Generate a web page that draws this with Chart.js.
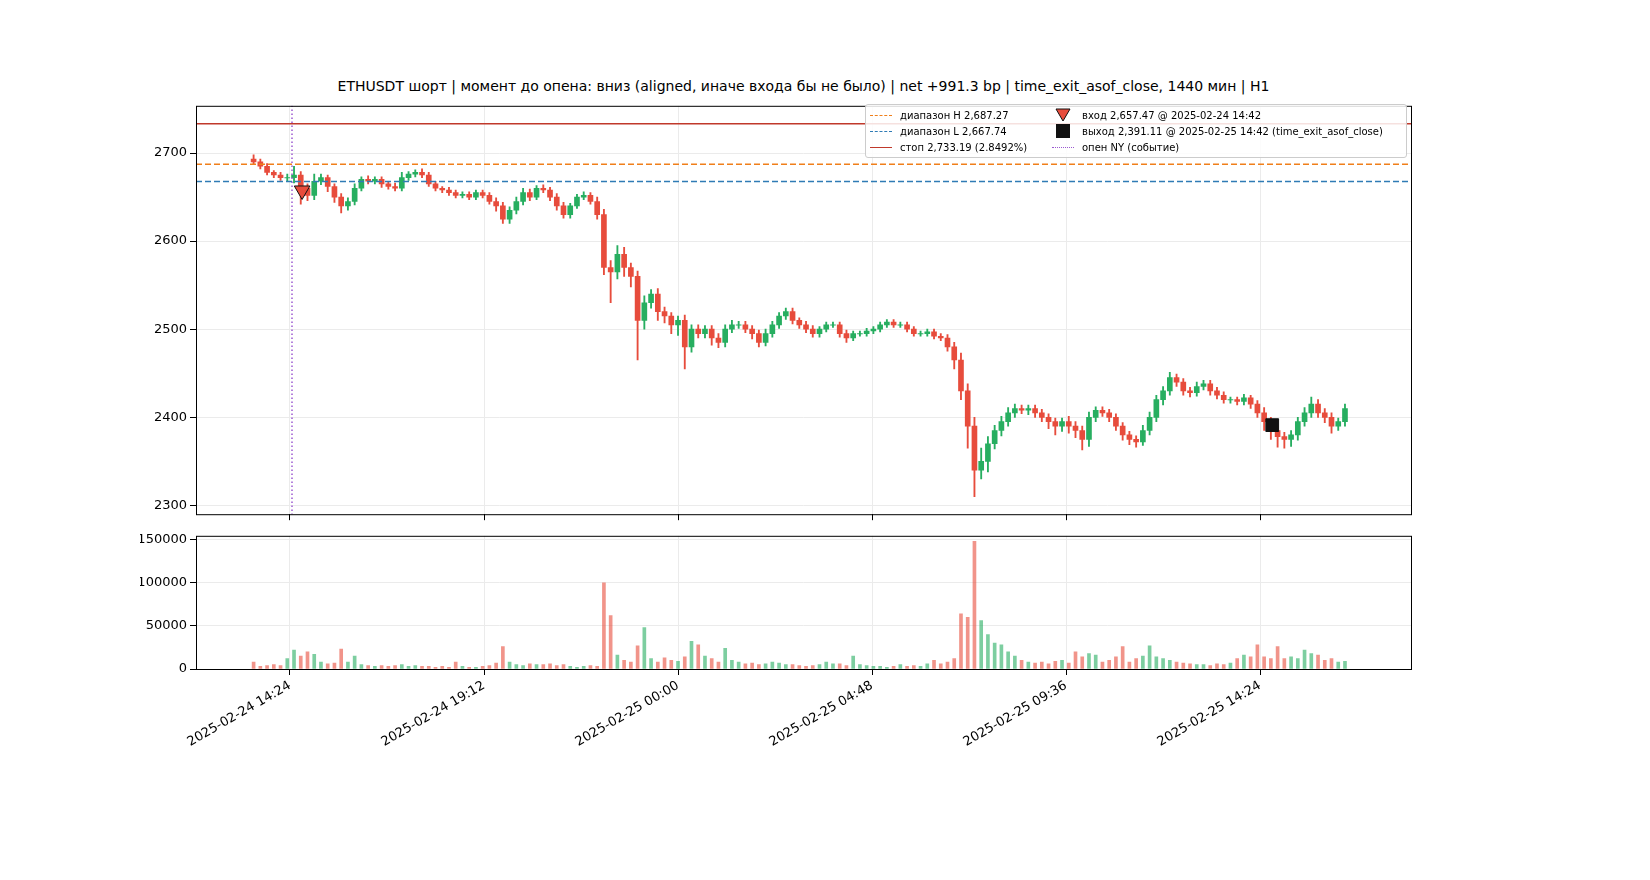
<!DOCTYPE html>
<html><head><meta charset="utf-8">
<script src="https://cdn.jsdelivr.net/npm/chart.js@4"></script>
<style>
body{margin:0;background:#fff;font-family:"DejaVu Sans",sans-serif;}
#wrap{position:relative;width:1650px;height:880px;}
canvas{position:absolute;}
#title{position:absolute;left:196px;width:1215px;top:78px;text-align:center;font-size:14px;}
#legend{position:absolute;left:865px;top:104px;width:540px;height:52px;background:rgba(255,255,255,0.85);border:1px solid #ccc;border-radius:3px;font-size:10px;}
.it{position:absolute;display:flex;align-items:center;height:16px;}
.ln{width:22px;margin-right:8px;height:0;}
</style></head>
<body><div id="wrap">
<canvas id="c1" width="1290" height="430" style="left:140px;top:95px;width:1290px;height:430px"></canvas>
<canvas id="c2" width="1290" height="270" style="left:140px;top:525px;width:1290px;height:270px"></canvas>
<div id="title">ETHUSDT шорт | момент до опена: вниз (aligned, иначе входа бы не было) | net +991.3 bp | time_exit_asof_close, 1440 мин | H1</div>
<div id="legend">
 <div class="it" style="left:4px;top:2px"><span class="ln" style="border-top:1.5px dashed #f07f1a"></span>диапазон H 2,687.27</div>
 <div class="it" style="left:4px;top:18px"><span class="ln" style="border-top:1.5px dashed #2f7bb5"></span>диапазон L 2,667.74</div>
 <div class="it" style="left:4px;top:34px"><span class="ln" style="border-top:1.5px solid #c0392b"></span>стоп 2,733.19 (2.8492%)</div>
 <div class="it" style="left:186px;top:2px"><svg width="22" height="14" style="margin-right:8px"><polygon points="4,1 18,1 11,13" fill="#e74c3c" stroke="#111"/></svg>вход 2,657.47 @ 2025-02-24 14:42</div>
 <div class="it" style="left:186px;top:18px"><svg width="22" height="14" style="margin-right:8px"><rect x="4" y="0" width="14" height="14" fill="#111"/></svg>выход 2,391.11 @ 2025-02-25 14:42 (time_exit_asof_close)</div>
 <div class="it" style="left:186px;top:34px"><span class="ln" style="border-top:1.5px dotted #9b59d0"></span>опен NY (событие)</div>
</div>
</div>
<script>
// 10-minute candles, starting 2025-02-24 13:30 (minutes from 2025-02-24 00:00)
const startMin = 810;
const stepMin = 10;
const firstOpen = 2693;
const closes = [
 2690,2685,2678,2675,2672,2672,
 2675,2660,2652,2668,2672,2662,
 2650,2640,2645,2660,2670,2668,
 2670,2665,2662,2660,2672,2676,
 2678,2675,2665,2660,2658,2655,
 2652,2653,2650,2655,2652,2645,
 2640,2625,2635,2645,2655,2650,
 2660,2658,2650,2640,2630,2640,
 2650,2652,2645,2630,2570,2565,
 2585,2570,2560,2510,2530,2540,
 2520,2515,2505,2510,2480,2500,
 2495,2500,2490,2485,2500,2505,
 2505,2500,2495,2485,2495,2505,
 2515,2520,2510,2505,2500,2495,
 2500,2505,2505,2495,2490,2495,
 2495,2498,2500,2505,2508,2505,
 2505,2500,2495,2495,2497,2492,
 2490,2480,2465,2430,2390,2340,
 2350,2370,2385,2395,2405,2410,
 2408,2410,2405,2400,2395,2390,
 2395,2390,2385,2375,2400,2408,
 2405,2400,2390,2380,2375,2372,
 2385,2400,2420,2430,2445,2440,
 2430,2428,2435,2438,2430,2425,
 2420,2420,2418,2422,2415,2405,
 2395,2385,2378,2375,2380,2395,
 2405,2415,2405,2400,2390,2395,2410
];
const wickHi = [
 5,3,3,2,3,4,
 10,4,5,8,4,3,
 3,4,4,5,3,4,
 3,3,3,4,6,3,
 3,4,3,3,2,3,
 3,3,3,3,3,3,
 4,4,4,5,5,4,
 3,4,3,4,4,3,
 3,4,3,5,6,8,
 10,8,5,6,8,5,
 6,5,4,5,6,5,
 5,4,4,5,5,5,
 4,4,4,4,5,4,
 4,4,4,3,4,4,
 3,3,3,3,4,3,
 3,3,3,3,3,3,
 3,3,3,3,3,3,
 3,4,5,8,8,10,
 15,8,6,6,6,5,
 4,4,4,4,4,4,
 4,6,5,5,6,4,
 4,4,4,4,4,4,
 6,6,5,5,6,4,
 4,4,5,4,4,4,
 4,3,3,4,3,4,
 6,5,5,5,5,5,
 6,8,5,5,5,4,5
];
const wickLo = [
 3,3,3,3,3,4,
 6,18,6,5,4,6,
 6,8,5,4,3,3,
 3,4,3,3,3,3,
 3,3,3,3,3,3,
 3,3,3,3,3,3,
 6,5,5,4,4,4,
 3,3,4,5,4,4,
 3,3,3,5,8,35,
 8,10,12,45,10,6,
 10,8,10,12,25,6,
 5,5,8,6,5,4,
 4,4,6,5,4,4,
 4,4,4,4,4,4,
 4,3,3,4,5,3,
 3,3,3,3,3,3,
 3,3,3,3,3,3,
 3,5,10,10,25,30,
 10,12,6,6,5,5,
 4,5,5,5,8,10,
 6,8,8,12,8,5,
 4,5,5,6,6,6,
 4,5,5,6,5,5,
 5,5,4,4,5,4,
 4,4,4,4,5,5,
 10,10,12,10,8,6,
 5,5,5,6,8,5,5
];
const volumes = [
 8000,3000,4000,5000,4000,12000,
 22000,15000,20000,17000,8000,6000,
 7000,23000,8000,15000,5000,4000,
 3000,4000,3000,4000,5000,3000,
 4000,3000,3000,2000,3000,2000,
 8000,3000,2000,2000,3000,4000,
 7000,26000,8000,5000,4000,6000,
 5000,5000,6000,4000,5000,3000,
 2000,3000,4000,3000,100000,62000,
 16000,10000,8000,27000,48000,12000,
 8000,13000,10000,9000,14000,32000,
 28000,15000,12000,8000,24000,10000,
 8000,6000,7000,5000,6000,8000,
 7000,5000,5000,4000,3000,4000,
 5000,8000,6000,6000,4000,15000,
 5000,4000,3000,3000,2000,3000,
 5000,3000,4000,3000,6000,10000,
 6000,8000,12000,64000,60000,148000,
 56000,40000,30000,28000,20000,15000,
 10000,8000,7000,8000,6000,9000,
 10000,7000,20000,14000,18000,16000,
 8000,10000,14000,26000,8000,12000,
 15000,27000,14000,12000,10000,8000,
 7000,6000,5000,5000,4000,6000,
 5000,7000,12000,16000,14000,28000,
 14000,12000,26000,12000,14000,12000,
 22000,18000,16000,10000,12000,8000,9000
];
const levelH = 2687.27, levelL = 2667.74, levelStop = 2733.19;
const entryMin = 882, entryPrice = 2657.47;
const exitMin = 2322, exitPrice = 2391.11;
const nyOpenMin = 867;
const xTicks = [864, 1152, 1440, 1728, 2016, 2304];
const xTickLabels = ['2025-02-24 14:24','2025-02-24 19:12','2025-02-25 00:00','2025-02-25 04:48','2025-02-25 09:36','2025-02-25 14:24'];
const xMin = 724.5, xMax = 2528;

const GREEN = '#27ae60', RED = '#e74c3c';
const opens = closes.map((c, i) => i === 0 ? firstOpen : closes[i - 1]);
const xs = closes.map((c, i) => startMin + i * stepMin);
const up = closes.map((c, i) => c >= opens[i]);
const colors = up.map(u => u ? GREEN : RED);

Chart.defaults.font.family = '"DejaVu Sans", sans-serif';
Chart.defaults.font.size = 13;
Chart.defaults.color = '#000';

const frame = {
  id: 'frame',
  afterDraw(ch) {
    const a = ch.chartArea, c = ch.ctx;
    c.save(); c.strokeStyle = '#000'; c.lineWidth = 1;
    c.strokeRect(a.left + 0.5, a.top + 0.5, a.width, a.height); c.restore();
  }
};

function xScale(showLabels, h) {
  return {
    type: 'linear', min: xMin, max: xMax, offset: false,
    afterBuildTicks: s => { s.ticks = xTicks.map(v => ({ value: v })); },
    afterFit: s => { s.height = h; },
    grid: { color: '#ebebeb', tickColor: '#000', tickLength: 6, offset: false },
    border: { display: false },
    ticks: {
      display: showLabels, maxRotation: 30, minRotation: 30, autoSkip: false,
      callback: v => xTickLabels[xTicks.indexOf(v)]
    }
  };
}
function hline(y, color, dash, w) {
  return { type: 'line', data: [{ x: xMin, y: y }, { x: xMax, y: y }], borderColor: color,
    borderDash: dash, borderWidth: w, pointRadius: 0, order: 0 };
}

new Chart(document.getElementById('c1'), {
  type: 'bar',
  data: {
    datasets: [
      { data: xs.map((x, i) => ({ x: x, y: [opens[i] === closes[i] ? opens[i] - 0.4 : opens[i], closes[i]] })),
        backgroundColor: colors, barThickness: 5, grouped: false, order: 2 },
      { data: xs.map((x, i) => ({ x: x, y: [Math.min(opens[i], closes[i]) - wickLo[i], Math.max(opens[i], closes[i]) + wickHi[i]] })),
        backgroundColor: colors, barThickness: 1.2, grouped: false, order: 3 },
      hline(levelStop, '#c0392b', [], 1.5),
      hline(levelH, '#f07f1a', [6, 3], 1.5),
      hline(levelL, '#2f7bb5', [6, 3], 1.5),
      { type: 'line', data: [{ x: nyOpenMin, y: 2280 }, { x: nyOpenMin, y: 2760 }], borderColor: '#9b59d0',
        borderDash: [1.5, 2.5], borderWidth: 1.5, pointRadius: 0, order: 0 },
      { type: 'scatter', data: [{ x: entryMin, y: entryPrice }], pointStyle: 'triangle', rotation: 180,
        pointRadius: 9, backgroundColor: RED, borderColor: '#111', borderWidth: 1, order: -1 },
      { type: 'scatter', data: [{ x: exitMin, y: exitPrice }], pointStyle: 'rect',
        pointRadius: 9, backgroundColor: '#111', borderColor: '#111', borderWidth: 1, order: -1 }
    ]
  },
  options: {
    responsive: false, animation: false, events: [],
    layout: { padding: { top: 6, right: 19, left: 0, bottom: 0 } },
    plugins: { legend: { display: false }, tooltip: { enabled: false } },
    scales: {
      x: xScale(false, 9),
      y: { min: 2290, max: 2753.6, afterFit: s => { s.width = 56; },
        afterBuildTicks: s => { s.ticks = [2300, 2400, 2500, 2600, 2700].map(v => ({ value: v })); },
        ticks: { callback: v => String(v) },
        grid: { color: '#ebebeb', tickColor: '#000', tickLength: 6 }, border: { display: false } }
    }
  },
  plugins: [frame]
});

new Chart(document.getElementById('c2'), {
  type: 'bar',
  data: {
    datasets: [{ data: xs.map((x, i) => ({ x: x, y: volumes[i] })),
      backgroundColor: up.map(u => u ? 'rgba(39,174,96,0.6)' : 'rgba(231,76,60,0.6)'), barThickness: 3 }]
  },
  options: {
    responsive: false, animation: false, events: [],
    layout: { padding: { top: 6, right: 19, left: 0, bottom: 0 } },
    plugins: { legend: { display: false }, tooltip: { enabled: false } },
    scales: {
      x: xScale(true, 126),
      y: { min: 0, max: 154400, afterFit: s => { s.width = 56; },
        afterBuildTicks: s => { s.ticks = [0, 50000, 100000, 150000].map(v => ({ value: v })); },
        ticks: { callback: v => String(v) },
        grid: { color: '#ebebeb', tickColor: '#000', tickLength: 6 }, border: { display: false } }
    }
  },
  plugins: [frame]
});
</script>
</body></html>
